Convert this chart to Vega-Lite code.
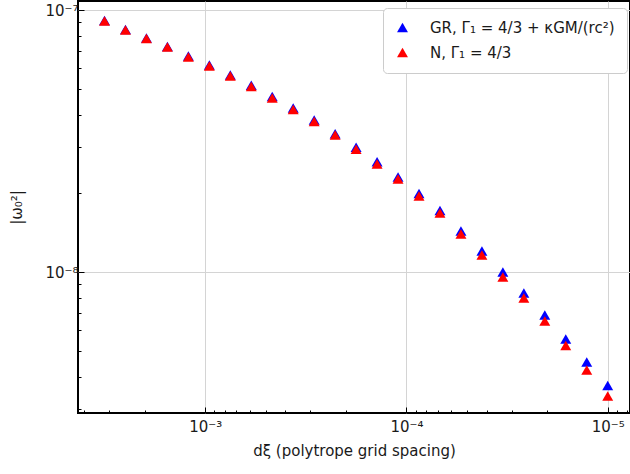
{
  "$schema": "https://vega.github.io/schema/vega-lite/v6.json",
  "autosize": "none",
  "width": 552,
  "height": 412,
  "padding": {"left": 78, "top": 1, "right": 0, "bottom": 61},
  "background": "white",
  "config": {
    "font": "DejaVu Sans",
    "view": {"stroke": "black", "strokeWidth": 2},
    "axis": {
      "domain": false,
      "grid": true,
      "gridColor": "#d4d4d4",
      "gridWidth": 1,
      "tickColor": "black",
      "tickWidth": 1,
      "labelFont": "DejaVu Sans",
      "labelFontSize": 15,
      "labelColor": "#1a1a1a",
      "titleFont": "DejaVu Sans",
      "titleFontSize": 15,
      "titleFontWeight": "normal",
      "titleColor": "#1a1a1a",
      "labelOverlap": false,
      "labelFlush": false
    },
    "legend": {
      "labelFont": "DejaVu Sans",
      "labelFontSize": 15,
      "labelColor": "#1a1a1a"
    }
  },
  "data": {
    "values": [
      {"dxi": 3.1623e-3, "omega": 9.14e-8, "model": "GR"},
      {"dxi": 2.4879e-3, "omega": 8.45e-8, "model": "GR"},
      {"dxi": 1.9573e-3, "omega": 7.84e-8, "model": "GR"},
      {"dxi": 1.5399e-3, "omega": 7.27e-8, "model": "GR"},
      {"dxi": 1.2115e-3, "omega": 6.69e-8, "model": "GR"},
      {"dxi": 9.532e-4, "omega": 6.18e-8, "model": "GR"},
      {"dxi": 7.499e-4, "omega": 5.66e-8, "model": "GR"},
      {"dxi": 5.900e-4, "omega": 5.17e-8, "model": "GR"},
      {"dxi": 4.642e-4, "omega": 4.69e-8, "model": "GR"},
      {"dxi": 3.652e-4, "omega": 4.24e-8, "model": "GR"},
      {"dxi": 2.873e-4, "omega": 3.81e-8, "model": "GR"},
      {"dxi": 2.260e-4, "omega": 3.38e-8, "model": "GR"},
      {"dxi": 1.7783e-4, "omega": 3.00e-8, "model": "GR"},
      {"dxi": 1.3991e-4, "omega": 2.64e-8, "model": "GR"},
      {"dxi": 1.1007e-4, "omega": 2.31e-8, "model": "GR"},
      {"dxi": 8.660e-5, "omega": 2.00e-8, "model": "GR"},
      {"dxi": 6.813e-5, "omega": 1.721e-8, "model": "GR"},
      {"dxi": 5.360e-5, "omega": 1.437e-8, "model": "GR"},
      {"dxi": 4.217e-5, "omega": 1.206e-8, "model": "GR"},
      {"dxi": 3.318e-5, "omega": 1.003e-8, "model": "GR"},
      {"dxi": 2.610e-5, "omega": 8.34e-9, "model": "GR"},
      {"dxi": 2.054e-5, "omega": 6.87e-9, "model": "GR"},
      {"dxi": 1.616e-5, "omega": 5.57e-9, "model": "GR"},
      {"dxi": 1.271e-5, "omega": 4.55e-9, "model": "GR"},
      {"dxi": 1.0e-5, "omega": 3.70e-9, "model": "GR"},
      {"dxi": 3.1623e-3, "omega": 9.10e-8, "model": "N"},
      {"dxi": 2.4879e-3, "omega": 8.41e-8, "model": "N"},
      {"dxi": 1.9573e-3, "omega": 7.81e-8, "model": "N"},
      {"dxi": 1.5399e-3, "omega": 7.24e-8, "model": "N"},
      {"dxi": 1.2115e-3, "omega": 6.63e-8, "model": "N"},
      {"dxi": 9.532e-4, "omega": 6.13e-8, "model": "N"},
      {"dxi": 7.499e-4, "omega": 5.61e-8, "model": "N"},
      {"dxi": 5.900e-4, "omega": 5.12e-8, "model": "N"},
      {"dxi": 4.642e-4, "omega": 4.63e-8, "model": "N"},
      {"dxi": 3.652e-4, "omega": 4.18e-8, "model": "N"},
      {"dxi": 2.873e-4, "omega": 3.76e-8, "model": "N"},
      {"dxi": 2.260e-4, "omega": 3.34e-8, "model": "N"},
      {"dxi": 1.7783e-4, "omega": 2.95e-8, "model": "N"},
      {"dxi": 1.3991e-4, "omega": 2.59e-8, "model": "N"},
      {"dxi": 1.1007e-4, "omega": 2.27e-8, "model": "N"},
      {"dxi": 8.660e-5, "omega": 1.955e-8, "model": "N"},
      {"dxi": 6.813e-5, "omega": 1.684e-8, "model": "N"},
      {"dxi": 5.360e-5, "omega": 1.400e-8, "model": "N"},
      {"dxi": 4.217e-5, "omega": 1.164e-8, "model": "N"},
      {"dxi": 3.318e-5, "omega": 9.60e-9, "model": "N"},
      {"dxi": 2.610e-5, "omega": 7.98e-9, "model": "N"},
      {"dxi": 2.054e-5, "omega": 6.52e-9, "model": "N"},
      {"dxi": 1.616e-5, "omega": 5.26e-9, "model": "N"},
      {"dxi": 1.271e-5, "omega": 4.24e-9, "model": "N"},
      {"dxi": 1.0e-5, "omega": 3.37e-9, "model": "N"}
    ]
  },
  "mark": {"type": "point", "shape": "triangle-up", "filled": true, "opacity": 1, "size": 120},
  "encoding": {
    "x": {
      "field": "dxi",
      "type": "quantitative",
      "scale": {"type": "log", "domain": [7.75e-6, 4.283e-3], "reverse": true, "nice": false},
      "axis": {
        "title": "dξ (polytrope grid spacing)",
        "titlePadding": 6,
        "values": [8e-6, 9e-6, 1e-5, 2e-5, 3e-5, 4e-5, 5e-5, 6e-5, 7e-5, 8e-5, 9e-5, 1e-4, 2e-4, 3e-4, 4e-4, 5e-4, 6e-4, 7e-4, 8e-4, 9e-4, 1e-3, 2e-3, 3e-3, 4e-3],
        "labelExpr": "datum.value == 1e-3 ? '10⁻³' : datum.value == 1e-4 ? '10⁻⁴' : datum.value == 1e-5 ? '10⁻⁵' : ''",
        "tickSize": {"condition": {"test": "datum.value == 1e-3 || datum.value == 1e-4 || datum.value == 1e-5", "value": -6}, "value": -3},
        "gridOpacity": {"condition": {"test": "datum.value == 1e-3 || datum.value == 1e-4 || datum.value == 1e-5", "value": 1}, "value": 0},
        "labelPadding": 12
      }
    },
    "y": {
      "field": "omega",
      "type": "quantitative",
      "scale": {"type": "log", "domain": [2.904e-9, 1.085e-7], "nice": false},
      "axis": {
        "title": "|ω₀²|",
        "titlePadding": 20,
        "values": [3e-9, 4e-9, 5e-9, 6e-9, 7e-9, 8e-9, 9e-9, 1e-8, 2e-8, 3e-8, 4e-8, 5e-8, 6e-8, 7e-8, 8e-8, 9e-8, 1e-7],
        "labelExpr": "datum.value == 1e-7 ? '10⁻⁷' : datum.value == 1e-8 ? '10⁻⁸' : ''",
        "tickSize": {"condition": {"test": "datum.value == 1e-7 || datum.value == 1e-8", "value": -6}, "value": -3},
        "gridOpacity": {"condition": {"test": "datum.value == 1e-7 || datum.value == 1e-8", "value": 1}, "value": 0},
        "labelPadding": 6
      }
    },
    "color": {
      "field": "model",
      "type": "nominal",
      "scale": {"domain": ["GR", "N"], "range": ["#0000ff", "#ff0000"]},
      "legend": {
        "title": null,
        "orient": "none",
        "legendX": 305,
        "legendY": 7,
        "symbolType": "triangle-up",
        "symbolSize": 120,
        "symbolOpacity": 1,
        "padding": 12,
        "labelOffset": 20,
        "rowPadding": 9,
        "strokeColor": "#cccccc",
        "fillColor": "white",
        "cornerRadius": 4,
        "labelExpr": "datum.value == 'GR' ? 'GR, Γ₁ = 4/3 + κGM/(rc²)' : 'N, Γ₁ = 4/3'",
        "labelLimit": 300
      }
    }
  }
}
